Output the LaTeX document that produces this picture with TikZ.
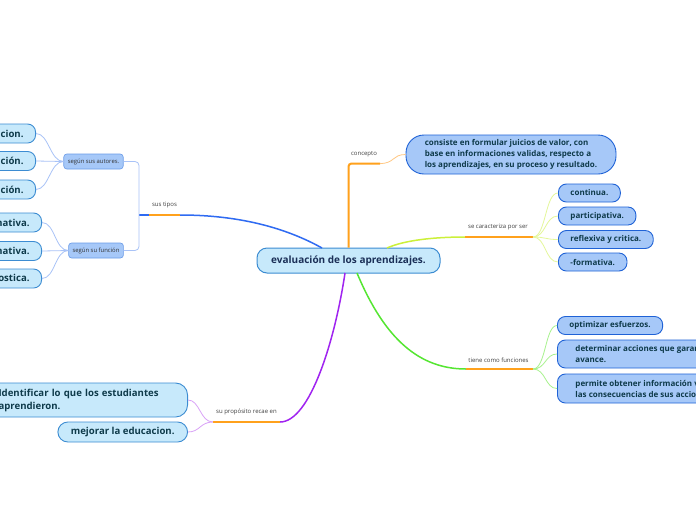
\documentclass[tikz,border=0pt]{standalone}
\usepackage{fontspec}
\setmainfont{Open Sans}
\usetikzlibrary{positioning}

\definecolor{topicfill}{HTML}{C7E9FB}
\definecolor{topicdraw}{HTML}{3C8CD2}
\definecolor{subfill}{HTML}{A6C8F8}
\definecolor{subdraw}{HTML}{1F62D6}
\definecolor{groupdraw}{HTML}{6A9BE8}
\definecolor{nodetext}{HTML}{0E3A4A}
\definecolor{maintext}{HTML}{1B2F57}
\definecolor{linkorange}{HTML}{FFA11C}
\definecolor{linkblue}{HTML}{2F6BF2}
\definecolor{linkyellow}{HTML}{CCF03A}
\definecolor{linkgreen}{HTML}{55E632}
\definecolor{linkpurple}{HTML}{A024F0}
\definecolor{lightblue}{HTML}{A9C3F7}
\definecolor{lightorange}{HTML}{FFC884}
\definecolor{lightyellow}{HTML}{E4F79A}
\definecolor{lightgreen}{HTML}{A8F28E}
\definecolor{lightpurple}{HTML}{D9A2F7}

\tikzset{
  mainbox/.style={draw=topicdraw, fill=topicfill, line width=1pt, rounded corners=10pt,
    text=maintext, font=\fontsize{10}{12}\selectfont\bfseries, minimum height=25pt, minimum width=183pt},
  leafbox/.style={draw=topicdraw, fill=topicfill, line width=0.9pt, rounded corners=8pt,
    text=nodetext, font=\fontsize{9.6}{13}\selectfont\bfseries, minimum height=19pt, inner xsep=12pt},
  subbox/.style={draw=subdraw, fill=subfill, line width=0.9pt, rounded corners=8pt,
    text=nodetext, font=\fontsize{8}{11}\selectfont\bfseries, minimum height=18pt, inner xsep=12pt},
  groupbox/.style={draw=groupdraw, fill=subfill, line width=0.6pt, rounded corners=3pt,
    text=black!80, font=\fontsize{5.9}{7}\selectfont, minimum height=15pt, inner xsep=4pt},
  linklabel/.style={text=black!75, font=\fontsize{6}{7}\selectfont, inner sep=0pt},
  trunk/.style={line width=1.5pt},
  stem/.style={line width=2pt, linkorange},
  twig/.style={line width=0.8pt},
}

\begin{document}
\begin{tikzpicture}[x=1pt, y=-1pt]
  \useasboundingbox (0,0) rectangle (696,520);
  \fill[white] (0,0) rectangle (696,520);
  \clip (0,0) rectangle (696,520);

  % central topic
  \node[mainbox] (main) at (348.5,260.5) {evaluación de los aprendizajes.};

  % concepto
  \node[subbox, rounded corners=18pt, align=left, minimum width=210pt, minimum height=39pt] (concept) at (511,154.5)
    {consiste en formular juicios de valor, con\\base en informaciones validas, respecto a\\los aprendizajes, en su proceso y resultado.};

  % se caracteriza por ser
  \node[subbox, anchor=west] (continua) at (558,193) {continua.};
  \node[subbox, anchor=west] (particip) at (558,216) {participativa.};
  \node[subbox, anchor=west] (reflexiva) at (558,239.5) {reflexiva y critica.};
  \node[subbox, anchor=west] (formativa) at (558,262) {-formativa.};

  % tiene como funciones
  \node[subbox, anchor=west] (optimizar) at (557,325.5) {optimizar esfuerzos.};
  \node[subbox, anchor=west, align=left, inner xsep=18pt, minimum height=28pt] (determinar) at (557,354)
    {determinar acciones que garanticen el\\avance.};
  \node[subbox, anchor=west, align=left, inner xsep=18pt, minimum height=29pt] (permite) at (557,388.5)
    {permite obtener información valiosa sobre\\las consecuencias de sus acciones.};

  % sus tipos
  \node[groupbox] (authors) at (93.5,161.5) {según sus autores.};
  \node[groupbox] (function) at (96,250.5) {según su función};
  \node[leafbox, anchor=east] (autoev) at (36,133.5) {autoevaluacion.};
  \node[leafbox, anchor=east] (coev) at (36,161) {coevaluación.};
  \node[leafbox, anchor=east] (heteroev) at (36,189.5) {heteroevaluación.};
  \node[leafbox, anchor=east] (sumativa) at (42,222.5) {sumativa.};
  \node[leafbox, anchor=east] (formfun) at (42,251) {formativa.};
  \node[leafbox, anchor=east] (diagnos) at (42,278.5) {diagnostica.};

  % su propósito recae en
  \node[leafbox, anchor=east, align=left, text width=177pt, minimum height=34pt, rounded corners=12pt] (identify) at (188,400)
    {Identificar lo que los estudiantes\\aprendieron.};
  \node[leafbox, anchor=east, inner xsep=13pt, minimum height=20pt, rounded corners=10pt] (improve) at (188,432) {mejorar la educacion.};

  % link labels
  \node[linklabel] (conceptlabel) at (364,154) {concepto};
  \node[linklabel] (typeslabel) at (164.5,205) {sus tipos};
  \node[linklabel] (traitlabel) at (498,227) {se caracteriza por ser};
  \node[linklabel] (funclabel) at (498.5,360) {tiene como funciones};
  \node[linklabel] (goallabel) at (246.5,412) {su propósito recae en};

  % concepto branch
  \coordinate (conceptbend) at (348.5,163.5);
  \coordinate (conceptend) at (380,163.5);
  \draw[stem, rounded corners=3pt] (main.north) -- (conceptbend) -- (conceptend);
  \draw[twig, lightorange] (conceptend) .. controls (395,163.5) and (392,154.5) .. (concept.west);

  % tipos branch
  \coordinate (typesstart) at (322,248);
  \coordinate (typesA) at (180,215);
  \coordinate (typesB) at (149,215);
  \coordinate (typesfork) at (139,215);
  \draw[trunk, linkblue] (typesstart) .. controls (295,233) and (250,215) .. (typesA);
  \draw[stem] (typesA) -- (typesB);
  \draw[trunk, linkblue] (typesB) -- (typesfork);
  \draw[twig, lightblue, rounded corners=4pt] (authors.east) -- (authors.east -| typesfork)
    -- (function.east -| typesfork) -- (function.east);
  \draw[twig, lightblue] (authors.west) .. controls (50,161.5) and (49,133.5) .. (autoev.east);
  \draw[twig, lightblue] (authors.west) -- (coev.east);
  \draw[twig, lightblue] (authors.west) .. controls (50,161.5) and (49,189.5) .. (heteroev.east);
  \draw[twig, lightblue] (function.west) .. controls (55,250.5) and (55,222.5) .. (sumativa.east);
  \draw[twig, lightblue] (function.west) -- (formfun.east);
  \draw[twig, lightblue] (function.west) .. controls (55,250.5) and (55,278.5) .. (diagnos.east);

  % caracteriza branch
  \coordinate (traitstart) at (387,248);
  \coordinate (traitA) at (465,237);
  \coordinate (traitB) at (533,237);
  \draw[trunk, linkyellow] (traitstart) .. controls (405,240) and (435,237) .. (traitA);
  \draw[stem] (traitA) -- (traitB);
  \foreach \leaf in {continua, particip, reflexiva, formativa}
    \draw[twig, lightyellow] (traitB) .. controls (546,237) and (545,0 |- \leaf.west) .. (\leaf.west);

  % funciones branch
  \coordinate (funcstart) at (357,273);
  \coordinate (funcA) at (466,369);
  \coordinate (funcB) at (533,369);
  \draw[trunk, linkgreen] (funcstart) .. controls (385,340) and (420,369) .. (funcA);
  \draw[stem] (funcA) -- (funcB);
  \foreach \leaf in {optimizar, determinar, permite}
    \draw[twig, lightgreen] (funcB) .. controls (546,369) and (545,0 |- \leaf.west) .. (\leaf.west);

  % propósito branch
  \coordinate (goalstart) at (345,273);
  \coordinate (goalA) at (280,422);
  \coordinate (goalB) at (213,422);
  \draw[trunk, linkpurple] (goalstart) .. controls (335,340) and (310,422) .. (goalA);
  \draw[stem] (goalA) -- (goalB);
  \draw[twig, lightpurple] (goalB) .. controls (200,422) and (200,400) .. (identify.east);
  \draw[twig, lightpurple] (goalB) .. controls (200,422) and (200,432) .. (improve.east);
\end{tikzpicture}
\end{document}
